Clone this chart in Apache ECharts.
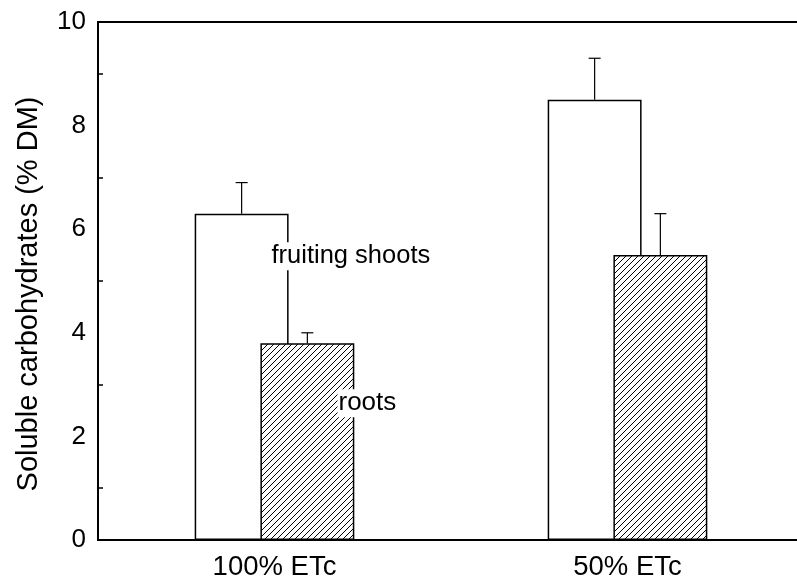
<!DOCTYPE html>
<html>
<head>
<meta charset="utf-8">
<script src="https://cdn.jsdelivr.net/npm/echarts@6/dist/echarts.min.js"></script>
<style>
  html, body { margin: 0; padding: 0; background: #fff; }
  #chart { width: 797px; height: 586px; }
</style>
</head>
<body>
<div id="chart"></div>
<script>
const categories = ['100% ETc', '50% ETc'];
const shootsValues = [6.3, 8.5];
const shootsErrors = [0.6, 0.8];
const rootsValues = [3.8, 5.5];
const rootsErrors = [0.2, 0.8];
const yTicks = [0, 2, 4, 6, 8, 10];

// text labels placed next to the bars: [category index, value, pixel dx]
const seriesLabels = [
  { text: 'fruiting shoots', at: [0, 5.48], dx: -4, size: 25.5 },
  { text: 'roots', at: [0, 2.64], dx: 63, size: 26 }
];

const FONT = "'Liberation Sans', Arial, Helvetica, sans-serif";
const BAR_WIDTH = 0.266;
const BAR_GAP = -0.3;

const hatch = (() => {
  const s = 6;
  const c = document.createElement('canvas');
  c.width = s;
  c.height = s;
  const ctx = c.getContext('2d');
  ctx.fillStyle = '#fff';
  ctx.fillRect(0, 0, s, s);
  ctx.strokeStyle = '#000';
  ctx.lineWidth = 1;
  ctx.beginPath();
  ctx.moveTo(0, s); ctx.lineTo(s, 0);
  ctx.moveTo(-1, 1); ctx.lineTo(1, -1);
  ctx.moveTo(s - 1, s + 1); ctx.lineTo(s + 1, s - 1);
  ctx.stroke();
  return c;
})();

const chart = echarts.init(document.getElementById('chart'), null, { renderer: 'canvas' });

const errorSeries = (values, errors, side) => ({
  type: 'custom',
  xAxisIndex: 0,
  yAxisIndex: 0,
  z: 5,
  silent: true,
  data: values.map((v, i) => [i, v, v + errors[i]]),
  renderItem: (params, api) => {
    const band = api.size([1, 0])[0];
    const barW = band * BAR_WIDTH;
    const offset = side * barW * (1 + BAR_GAP) / 2;
    const base = api.coord([api.value(0), api.value(1)]);
    const top = api.coord([api.value(0), api.value(2)]);
    const x = base[0] + offset;
    const cap = 6;
    const style = { stroke: '#000', lineWidth: 1.2 };
    return {
      type: 'group',
      children: [
        { type: 'line', shape: { x1: x, y1: base[1], x2: x, y2: top[1] }, style },
        { type: 'line', shape: { x1: x - cap, y1: top[1], x2: x + cap, y2: top[1] }, style }
      ]
    };
  }
});

chart.setOption({
  animation: false,
  textStyle: { fontFamily: FONT },
  grid: {
    // the plot runs a few pixels past the right edge of the picture
    left: 98, top: 22, bottom: 46, width: 706,
    outerBoundsMode: 'none',
    containLabel: false,
    show: true, borderColor: '#000', borderWidth: 2, backgroundColor: 'transparent'
  },
  xAxis: [
    {
      type: 'category',
      data: categories,
      axisLine: { lineStyle: { color: '#000', width: 2 } },
      axisTick: { alignWithLabel: true, inside: true, length: 10, lineStyle: { color: '#000', width: 1.5 } },
      axisLabel: { color: '#000', fontSize: 27.5, margin: 13, fontFamily: FONT },
      splitLine: { show: false }
    },
    {
      type: 'category',
      data: categories,
      position: 'bottom',
      axisLine: { show: false },
      axisTick: { inside: true, length: 5, lineStyle: { color: '#000', width: 1.5 } },
      axisLabel: { show: false },
      splitLine: { show: false }
    }
  ],
  yAxis: {
    type: 'value',
    min: yTicks[0],
    max: yTicks[yTicks.length - 1],
    interval: 2,
    name: 'Soluble carbohydrates (% DM)',
    nameLocation: 'middle',
    nameGap: 55,
    nameTextStyle: { color: '#000', fontSize: 29, fontFamily: FONT, padding: [0, 26, 0, 0] },
    axisLine: { show: true, lineStyle: { color: '#000', width: 2 } },
    axisTick: { inside: true, length: 10, lineStyle: { color: '#000', width: 1.5 } },
    minorTick: { show: true, splitNumber: 2, length: 5, lineStyle: { color: '#000', width: 1.5 } },
    axisLabel: { color: '#000', fontSize: 26, margin: 12, fontFamily: FONT },
    splitLine: { show: false }
  },
  series: [
    {
      name: 'fruiting shoots',
      type: 'bar',
      data: shootsValues,
      barWidth: (BAR_WIDTH * 100) + '%',
      barGap: (BAR_GAP * 100) + '%',
      itemStyle: { color: '#fff', borderColor: '#000', borderWidth: 1.5 }
    },
    {
      name: 'roots',
      type: 'bar',
      data: rootsValues,
      barWidth: (BAR_WIDTH * 100) + '%',
      barGap: (BAR_GAP * 100) + '%',
      itemStyle: {
        color: { image: hatch, repeat: 'repeat' },
        borderColor: '#000', borderWidth: 1.5
      }
    },
    errorSeries(shootsValues, shootsErrors, -1),
    errorSeries(rootsValues, rootsErrors, 1)
  ]
});

chart.setOption({
  graphic: seriesLabels.map(l => {
    const p = chart.convertToPixel({ gridIndex: 0 }, l.at);
    return {
      type: 'text',
      z: 100,
      x: p[0] + l.dx,
      y: p[1],
      style: {
        text: l.text,
        fill: '#000',
        font: l.size + 'px ' + FONT,
        verticalAlign: 'middle',
        align: 'left',
        backgroundColor: '#fff',
        padding: [1, 1]
      }
    };
  })
});
</script>
</body>
</html>
